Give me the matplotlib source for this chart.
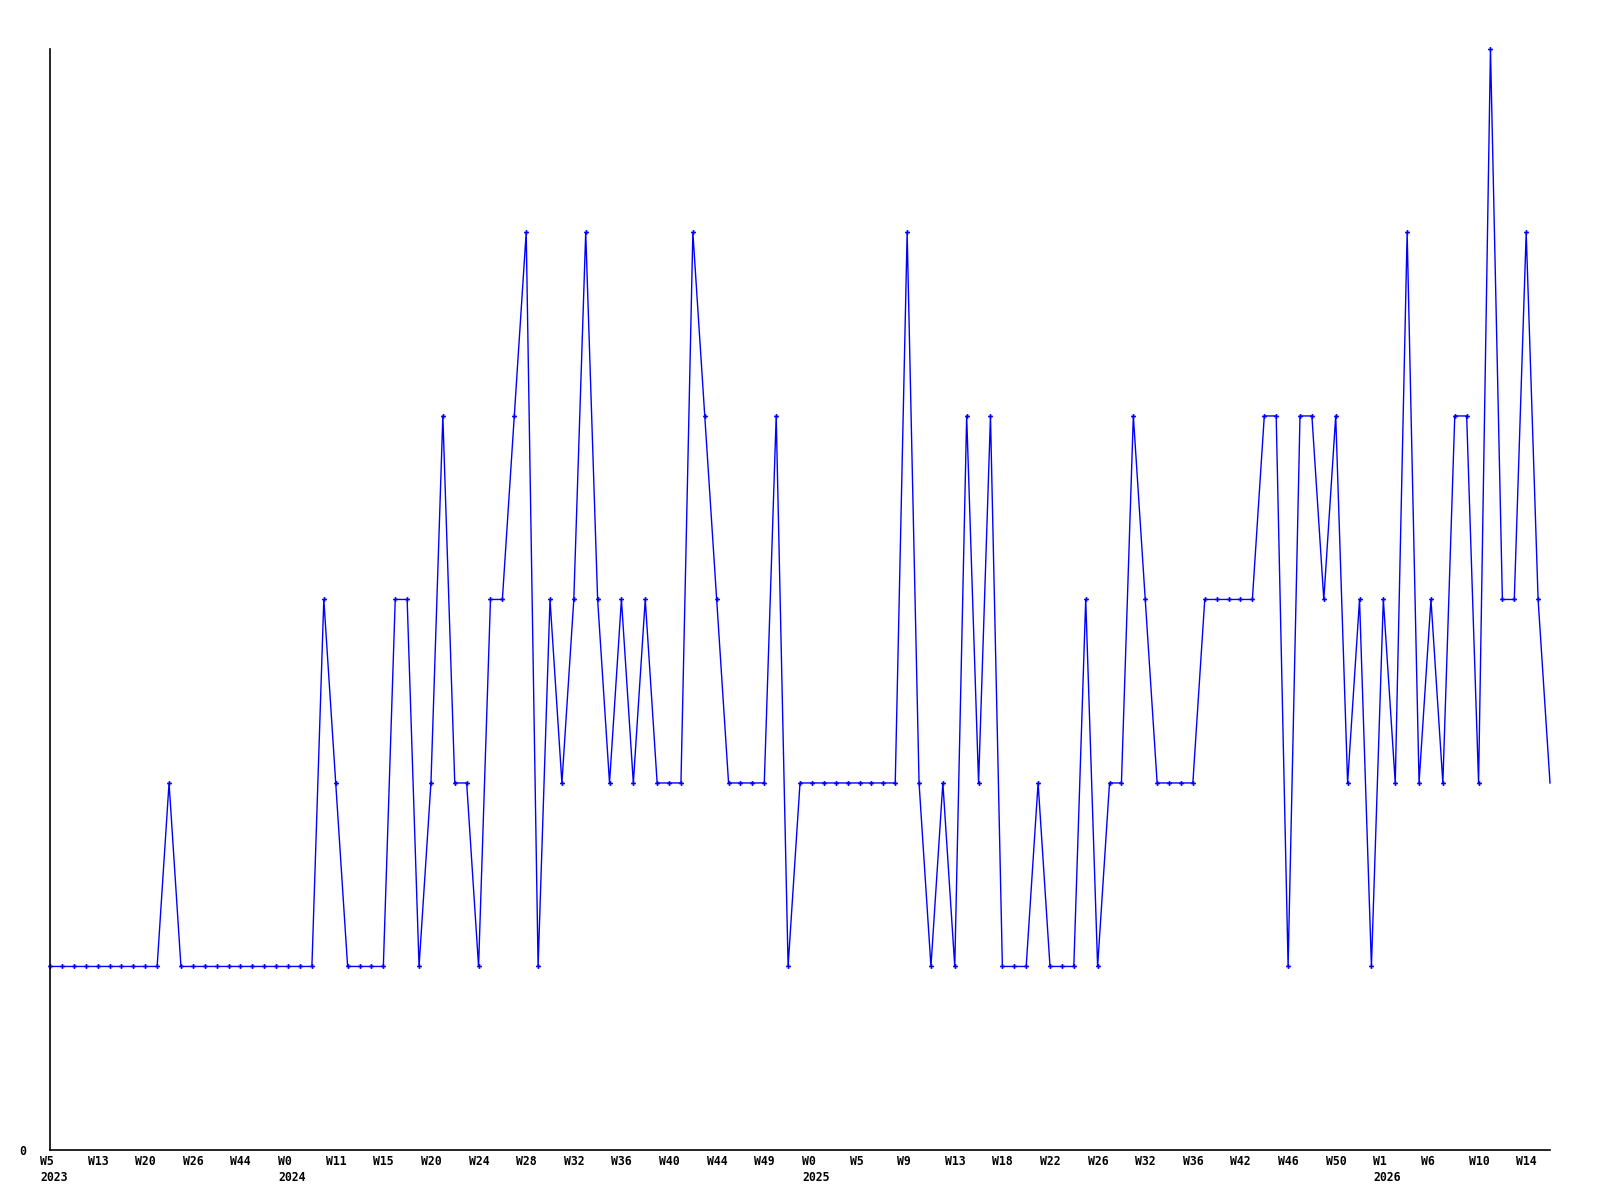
import numpy as np
import matplotlib
matplotlib.use("Agg")
from matplotlib import pyplot as plt
from matplotlib import transforms

### data ###

values = [1, 1, 1, 1, 1, 1, 1, 1, 1, 1,
          2,
          1, 1, 1, 1, 1, 1, 1, 1, 1, 1, 1, 1,
          3, 2, 1, 1, 1, 1, 3, 3, 1, 2, 4, 2, 2, 1, 3, 3, 4, 5,
          1, 3, 2, 3, 5, 3, 2, 3, 2, 3, 2, 2, 2, 5, 4, 3,
          2, 2, 2, 2, 4, 1,
          2, 2, 2, 2, 2, 2, 2, 2, 2,
          5, 2, 1, 2, 1, 4, 2, 4, 1, 1, 1, 2, 1, 1, 1, 3, 1, 2, 2, 4, 3,
          2, 2, 2, 2, 3, 3, 3, 3, 3, 4, 4, 1, 4, 4, 3, 4, 2, 3, 1, 3, 2,
          5, 2, 3, 2, 4, 4, 2, 6, 3, 3, 5, 3, 2]

week_labels = ["W5", "W13", "W20", "W26", "W44", "W0", "W11", "W15", "W20",
               "W24", "W28", "W32", "W36", "W40", "W44", "W49", "W0", "W5",
               "W9", "W13", "W18", "W22", "W26", "W32", "W36", "W42", "W46",
               "W50", "W1", "W6", "W10", "W14"]
year_labels = {0: "2023", 5: "2024", 16: "2025", 28: "2026"}
label_step = 4

### plot ###

def make_tick_labels(weeks, years):
    res = []
    for k, w in enumerate(weeks):
        res.append(w + "\n" + years[k] if k in years else w)
    return res

def plot_series(vals):
    fig = plt.figure(figsize=(16, 12), dpi=100)
    ax = fig.add_axes([0.03125, 0.0417, 0.9375, 0.9175])
    x = np.arange(len(vals))
    ax.plot(x, vals, color="#0000ff", linewidth=1.0, marker="P",
            markersize=3.5, markeredgewidth=0, markevery=list(range(len(vals) - 1)),
            clip_on=False)
    ax.set_xlim(0, len(vals) - 1)
    ax.set_ylim(0, 6)
    for s in ["top", "right"]:
        ax.spines[s].set_visible(False)
    for s in ["left", "bottom"]:
        ax.spines[s].set_linewidth(1.2)
        ax.spines[s].set_color("black")

    font = dict(family="DejaVu Sans Mono", weight="bold", size=8.3)
    # x labels: left-aligned, shifted ~10px left of their data point
    ax.set_xticks([])
    offset = transforms.ScaledTranslation(-10 / 100, -5 / 100, fig.dpi_scale_trans)
    trans = ax.get_xaxis_transform() + offset
    for k, lbl in enumerate(make_tick_labels(week_labels, year_labels)):
        ax.text(k * label_step, 0, lbl, transform=trans, ha="left", va="top",
                linespacing=1.3, **font)
    ax.set_yticks([0])
    ax.set_yticklabels(["0"], **font)
    ax.tick_params(axis="both", length=0)
    ax.tick_params(axis="y", pad=17)
    fig.savefig("out.png", dpi=100, facecolor="white")

plot_series(values)
